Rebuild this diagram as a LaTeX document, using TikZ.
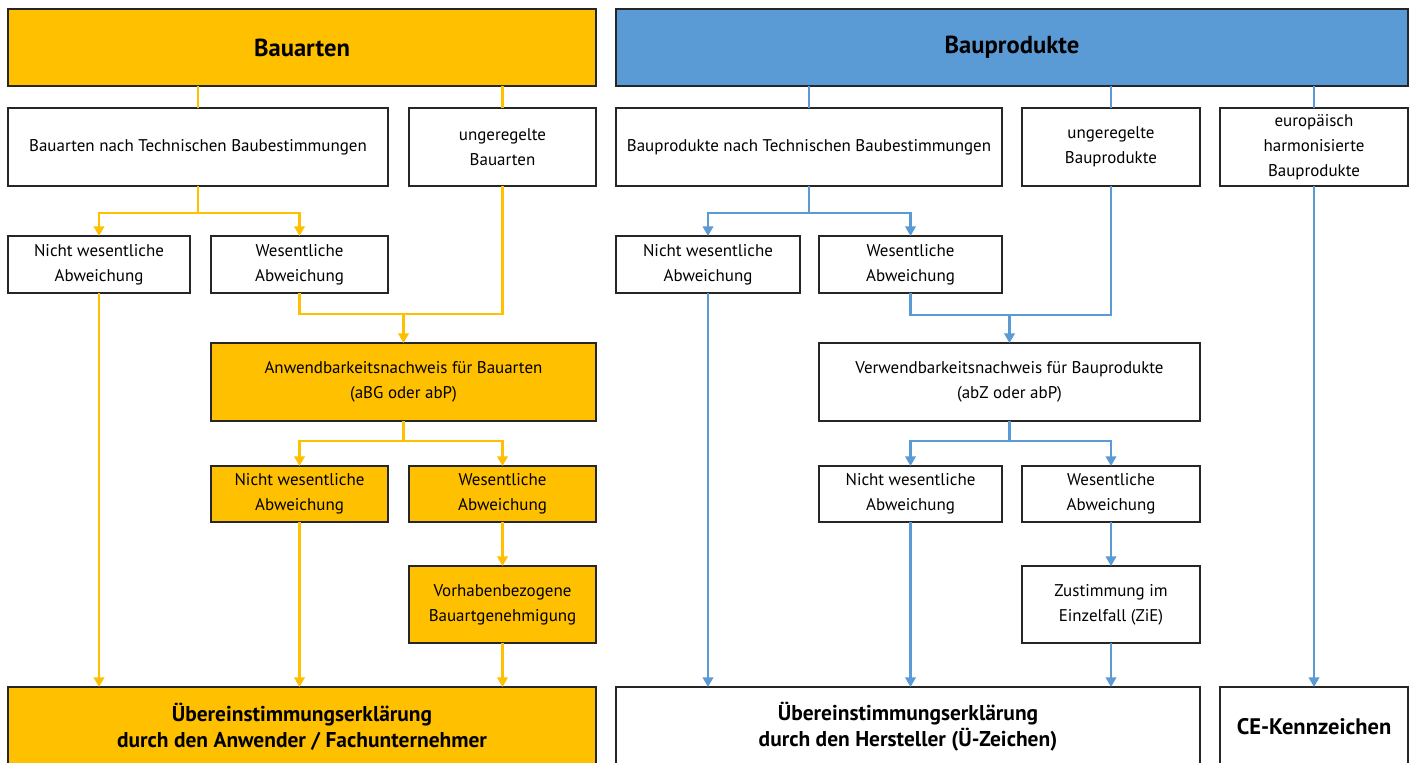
\documentclass[tikz,border=0pt]{standalone}
\usepackage{fontspec}
\setmainfont{PT Sans}
\usetikzlibrary{arrows.meta}
\definecolor{gelb}{HTML}{FFC000}
\definecolor{blau}{HTML}{5B9BD5}
\definecolor{rand}{HTML}{262626}
\tikzset{
  box/.style 2 args={draw=rand, line width=0.8pt, anchor=north west, inner sep=0pt, outer sep=0pt,
    align=center, minimum width=#1*0.02cm, minimum height=#2*0.02cm,
    font=\fontsize{9.65}{14.2}\selectfont},
  head/.style={font=\fontsize{14}{16}\selectfont\bfseries},
  ende/.style={font=\fontsize{12.2}{15}\selectfont\bfseries},
  gline/.style={draw=gelb, line width=1.2pt},
  bline/.style={draw=blau, line width=1.2pt},
  pfeil/.style={-{Triangle[width=6pt,length=5.5pt]}}
}
\begin{document}
\begin{tikzpicture}[x=0.02cm, y=-0.02cm]
  \fill[white] (0,0) rectangle (1413,763);
  \clip (0,0) rectangle (1413,763);

  % Bauarten
  \node[box={588}{77}, fill=gelb, head] (bauarten) at (8,9) {Bauarten};
  \node[box={380}{78}] (tbA) at (8,108) {Bauarten nach Technischen Baubestimmungen};
  \node[box={187}{78}] (ungA) at (409,108) {ungeregelte\\Bauarten};
  \node[box={182}{57}] (nwA) at (8,236) {Nicht wesentliche\\Abweichung};
  \node[box={177}{57}] (wA) at (211,236) {Wesentliche\\Abweichung};
  \node[box={385}{78}, fill=gelb] (anwA) at (211,343) {Anwendbarkeitsnachweis für Bauarten\\(aBG oder abP)};
  \node[box={177}{56}, fill=gelb] (nwA2) at (211,466) {Nicht wesentliche\\Abweichung};
  \node[box={187}{56}, fill=gelb] (wA2) at (409,466) {Wesentliche\\Abweichung};
  \node[box={187}{77}, fill=gelb] (vbg) at (409,566) {Vorhabenbezogene\\Bauartgenehmigung};
  \node[box={588}{80}, fill=gelb, ende] (ueA) at (8,687) {Übereinstimmungserklärung\\durch den Anwender / Fachunternehmer};

  % Bauprodukte
  \node[box={792}{77}, fill=blau, head] (bauprod) at (616,9) {Bauprodukte};
  \node[box={386}{78}] (tbP) at (616,108) {Bauprodukte nach Technischen Baubestimmungen};
  \node[box={178}{78}] (ungP) at (1022,108) {ungeregelte\\Bauprodukte};
  \node[box={188}{78}] (euP) at (1220,108) {europäisch\\harmonisierte\\Bauprodukte};
  \node[box={184}{57}] (nwP) at (616,236) {Nicht wesentliche\\Abweichung};
  \node[box={183}{57}] (wP) at (819,236) {Wesentliche\\Abweichung};
  \node[box={381}{78}] (vwP) at (819,343) {Verwendbarkeitsnachweis für Bauprodukte\\(abZ oder abP)};
  \node[box={183}{56}] (nwP2) at (819,466) {Nicht wesentliche\\Abweichung};
  \node[box={178}{56}] (wP2) at (1022,466) {Wesentliche\\Abweichung};
  \node[box={178}{77}] (zie) at (1022,566) {Zustimmung im\\Einzelfall (ZiE)};
  \node[box={584}{80}, ende] (ueP) at (616,687) {Übereinstimmungserklärung\\durch den Hersteller (Ü-Zeichen)};
  \node[box={188}{80}, ende, font=\fontsize{12.8}{15}\selectfont\bfseries] (ce) at (1220,687) {CE-Kennzeichen};

  % gelbe Verbindungen
  \draw[gline] (tbA.north) -- (tbA.north |- bauarten.south);
  \draw[gline] (ungA.north) -- (ungA.north |- bauarten.south);
  \draw[gline, pfeil] (tbA.south) -- ++(0,27) -| (nwA.north);
  \draw[gline, pfeil] (tbA.south) -- ++(0,27) -| (wA.north);
  \path (anwA.north) ++(0,-29) coordinate (mA);
  \draw[gline] (ungA.south) |- (mA);
  \draw[gline] (wA.south) |- (mA);
  \draw[gline, pfeil] (mA) -- (anwA.north);
  \draw[gline, pfeil] (nwA.south) -- (nwA.south |- ueA.north);
  \draw[gline, pfeil] (anwA.south) -- ++(0,20) -| (nwA2.north);
  \draw[gline, pfeil] (anwA.south) -- ++(0,20) -| (wA2.north);
  \draw[gline, pfeil] (nwA2.south) -- (nwA2.south |- ueA.north);
  \draw[gline, pfeil] (wA2.south) -- (vbg.north);
  \draw[gline, pfeil] (vbg.south) -- (vbg.south |- ueA.north);

  % blaue Verbindungen
  \draw[bline] (tbP.north) -- (tbP.north |- bauprod.south);
  \draw[bline] (ungP.north) -- (ungP.north |- bauprod.south);
  \draw[bline] (euP.north) -- (euP.north |- bauprod.south);
  \draw[bline, pfeil] (tbP.south) -- ++(0,27) -| (nwP.north);
  \draw[bline, pfeil] (tbP.south) -- ++(0,27) -| (wP.north);
  \path (vwP.north) ++(0,-28) coordinate (mP);
  \draw[bline] (ungP.south) |- (mP);
  \draw[bline] (wP.south) |- (mP);
  \draw[bline, pfeil] (mP) -- (vwP.north);
  \draw[bline, pfeil] (nwP.south) -- (nwP.south |- ueP.north);
  \draw[bline, pfeil] (vwP.south) -- ++(0,20) -| (nwP2.north);
  \draw[bline, pfeil] (vwP.south) -- ++(0,20) -| (wP2.north);
  \draw[bline, pfeil] (nwP2.south) -- (nwP2.south |- ueP.north);
  \draw[bline, pfeil] (wP2.south) -- (zie.north);
  \draw[bline, pfeil] (zie.south) -- (zie.south |- ueP.north);
  \draw[bline, pfeil] (euP.south) -- (euP.south |- ce.north);
\end{tikzpicture}
\end{document}
